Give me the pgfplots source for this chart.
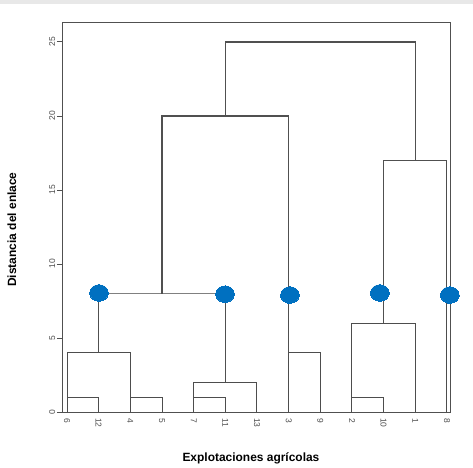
\documentclass[border=0pt]{standalone}
\usepackage{pgfplots}
\pgfplotsset{compat=1.18}
\usepackage{fontspec}
\setmainfont{Liberation Sans}
\definecolor{dotblue}{HTML}{0070C0}
\definecolor{linegray}{HTML}{505050}
\definecolor{lightgray}{HTML}{808080}
\begin{document}
\begin{tikzpicture}
\path[use as bounding box] (0,0) rectangle (473bp,468bp);
\fill[black!9] (0,464bp) rectangle (473bp,468bp);
\begin{axis}[
    at={(62bp,56bp)}, anchor=south west,
    scale only axis, width=388bp, height=389bp,
    xmin=0.842, xmax=13.095, ymin=0, ymax=26.28,
    axis line style={linegray, line width=1bp},
    xtick={1,...,13},
    xticklabels={6,12,4,5,7,11,13,3,9,2,10,1,8},
    xtick style={draw=none},
    xticklabel style={rotate=-90, anchor=west, inner sep=1bp},
    ytick={0,5,10,15,20,25},
    ytick pos=left, tick align=outside,
    major tick length=5bp,
    ytick style={linegray, line width=0.9bp},
    yticklabel style={rotate=90, anchor=south, inner sep=1.5bp},
    tick label style={font=\fontsize{8.5}{9}\selectfont, text=black!70},
    /pgf/number format/assume math mode=true,
    xlabel={Explotaciones agrícolas},
    ylabel={Distancia del enlace},
    label style={font=\fontsize{12}{14}\selectfont\bfseries},
    xlabel style={at={(axis description cs:0.487,-0.118)}, anchor=center},
    ylabel style={at={(axis description cs:-0.129,0.469)}, anchor=center},
    unbounded coords=jump,
    clip=false,
  ]
  % small clusters (thin lines)
  \addplot[lightgray!60!black, line width=1bp, mark=none] coordinates {
      (1,0) (1,1) (2,1) (2,0) (nan,nan)
      (3,0) (3,1) (4,1) (4,0) (nan,nan)
      (1,1) (1,4) (3,4) (3,1) (nan,nan)
      (5,0) (5,1) (6,1) (6,0) (nan,nan)
      (5,1) (5,2) (7,2) (7,0) (nan,nan)
      (8,0) (8,4) (9,4) (9,0) (nan,nan)
      (10,0) (10,1) (11,1) (11,0) (nan,nan)
      (10,1) (10,6) (12,6) (12,0) (nan,nan)
      (13,0) (13,17)
    };
  % link at height 8
  \addplot[lightgray, line width=1bp, mark=none] coordinates {
      (2,8) (6,8)
    };
  % main branches (darker)
  \addplot[linegray, line width=1.3bp, mark=none] coordinates {
      (2,4) (2,8) (nan,nan)
      (6,2) (6,8) (nan,nan)
      (8,4) (8,20) (nan,nan)
      (4,8) (4,20) (8,20) (nan,nan)
      (11,6) (11,17) (nan,nan)
      (6,20) (6,25) (12,25) (12,17) (nan,nan)
    };
  \addplot[linegray, line width=1.1bp, mark=none] coordinates {
      (11,17) (13,17)
    };
  % cut points
  \addplot[dotblue, only marks, mark=*, mark size=8.3bp,
           mark options={fill=dotblue, draw=dotblue, line width=0pt, xscale=1.13}] coordinates {
      (2.01,8.04) (5.99,7.96) (8.04,7.9) (10.88,8.04) (13.09,7.9)
    };
\end{axis}
\end{tikzpicture}
\end{document}
